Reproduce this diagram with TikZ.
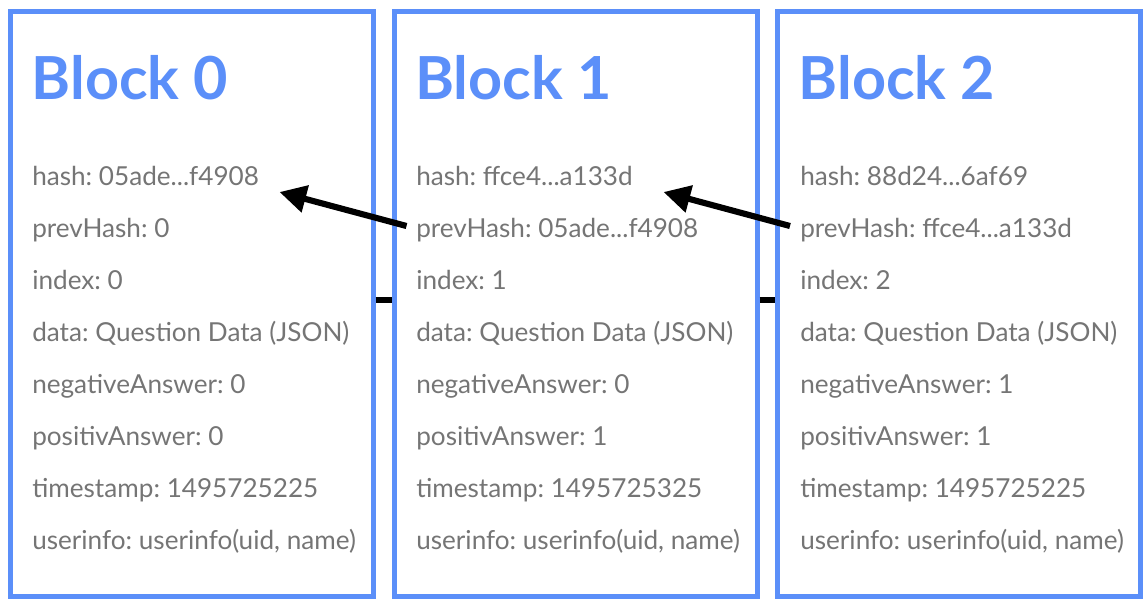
\documentclass[tikz,border=0pt]{standalone}
\usepackage{fontspec}
\setmainfont{Lato}
\usetikzlibrary{arrows.meta, positioning}
\definecolor{chainblue}{RGB}{91, 143, 249}
\definecolor{fieldgray}{RGB}{117, 117, 117}
\newcommand{\hashabbr}[2]{#1...#2}
\frenchspacing

\begin{document}
\begin{tikzpicture}[
    x=0.75pt, y=-0.75pt,
    every node/.style={inner sep=0pt},
    blockbox/.style={draw=chainblue, line width=3.75pt, minimum width=272.25pt, minimum height=438.4pt},
    title/.style={anchor=base west, text=chainblue, font=\fontsize{44.5}{44.5}\selectfont\bfseries},
    field/.style={anchor=base west, text=fieldgray, font=\fontsize{19.6}{19.6}\selectfont},
    link/.style={line width=5.2pt},
    pointer/.style={line width=4.6pt, -{Triangle[length=20pt, width=20pt]}}
]
\useasboundingbox (0,0) rectangle (1148,608);

% the three blocks
\node[blockbox] (block0) at (191.5,304) {};
\node[blockbox] (block1) at (575.5,304) {};
\node[blockbox] (block2) at (959,304) {};

\node[title] (title0) at (31.5,99) {Block 0};
\node[title] (title1) at (415,99) {Block 1};
\node[title] (title2) at (798.5,99) {Block 2};

% block fields
\foreach \b/\x/\hsh/\prv/\ngt/\pst/\ts in {
    0/32/\hashabbr{05ade}{f4908}/0/0/0/1495725225,
    1/416/\hashabbr{ffce4}{a133d}/\hashabbr{05ade}{f4908}/0/1/1495725325,
    2/800/\hashabbr{88d24}{6af69}/\hashabbr{ffce4}{a133d}/1/1/1495725225}
{
  \foreach \txt [count=\r] in {hash: \hsh, prevHash: \prv, index: \b,
      data: Question Data (JSON), negativeAnswer: \ngt, positivAnswer: \pst,
      timestamp: \ts, {userinfo: userinfo(uid, name)}}
    \node[field] (f\b-\r) at (\x,{133+52*\r}) {\txt};
}

% chain links
\draw[link] ([shift={(0,-4)}]block0.east) -- ([shift={(0,-4)}]block1.west);
\draw[link] ([shift={(0,-4)}]block1.east) -- ([shift={(0,-4)}]block2.west);
\draw[pointer] ([shift={(-169,-78)}]block1.center) -- ([shift={(88,-112)}]block0.center);
\draw[pointer] ([shift={(-169,-78)}]block2.center) -- ([shift={(88,-112)}]block1.center);
\end{tikzpicture}
\end{document}
